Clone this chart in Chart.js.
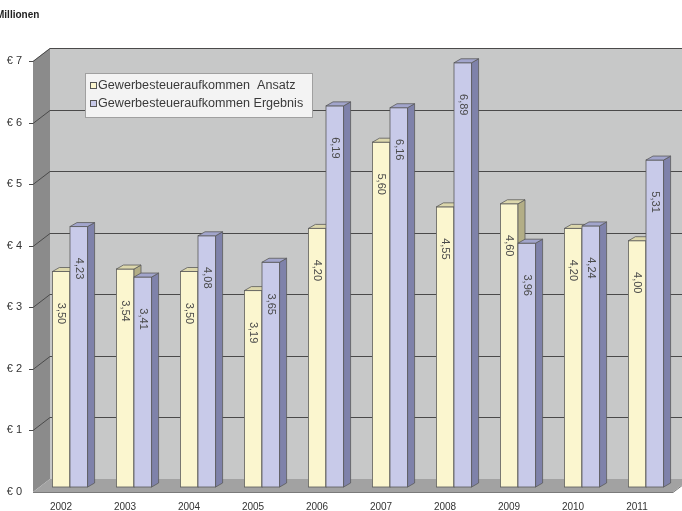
<!DOCTYPE html>
<html>
<head>
<meta charset="utf-8">
<script src="https://cdn.jsdelivr.net/npm/chart.js@4.4.1/dist/chart.umd.min.js"></script>
<style>
  html, body { margin: 0; padding: 0; background: #fff; }
</style>
</head>
<body>
<canvas id="myChart" width="682" height="511"></canvas>
<script>
const years = ['2002', '2003', '2004', '2005', '2006', '2007', '2008', '2009', '2010', '2011']
const ansatz = [3.50, 3.54, 3.50, 3.19, 4.20, 5.60, 4.55, 4.60, 4.20, 4.00]
const ergebnis = [4.23, 3.41, 4.08, 3.65, 6.19, 6.16, 6.89, 3.96, 4.24, 5.31]
const seriesNames = ['Gewerbesteueraufkommen  Ansatz', 'Gewerbesteueraufkommen Ergebnis']
const yMax = 7

const FONT = 'Liberation Sans, Arial, sans-serif'

// face colours for the 3d bars: front, side, top
const faces = [
  { front: '#fbf6cf', side: '#b3ae86', top: '#dcd7ac' },
  { front: '#c8cae9', side: '#7f82aa', top: '#a2a5cc' }
]

// depth of the box (walls) and of the bars
const FRONT = { dx: -5, dy: 5 }
const BACK = { dx: 12, dy: -8 }
const BAR_DX = 7
const BAR_DY = 4

const fmt = (v) => v.toFixed(2).replace('.', ',')

const walls = {
  id: 'walls',
  beforeDatasetsDraw(chart) {
    const { ctx, chartArea } = chart
    const y = chart.scales.y
    const L = chartArea.left
    const R = chartArea.right
    const W = chart.width
    const top = y.getPixelForValue(yMax)
    const zero = y.getPixelForValue(0)
    ctx.save()
    // back wall
    ctx.fillStyle = '#c7c8c8'
    ctx.fillRect(L + BACK.dx, top + BACK.dy, W - L - BACK.dx, zero - top)
    // left side wall
    ctx.fillStyle = '#8b8b8b'
    ctx.beginPath()
    ctx.moveTo(L + FRONT.dx, top + FRONT.dy)
    ctx.lineTo(L + BACK.dx, top + BACK.dy)
    ctx.lineTo(L + BACK.dx, zero + BACK.dy)
    ctx.lineTo(L + FRONT.dx, zero + FRONT.dy)
    ctx.closePath()
    ctx.fill()
    // floor
    ctx.fillStyle = '#a2a2a2'
    ctx.beginPath()
    ctx.moveTo(L + FRONT.dx, zero + FRONT.dy)
    ctx.lineTo(L + BACK.dx, zero + BACK.dy)
    ctx.lineTo(R + BACK.dx, zero + BACK.dy)
    ctx.lineTo(R + FRONT.dx, zero + FRONT.dy)
    ctx.closePath()
    ctx.fill()
    ctx.strokeStyle = '#7a7a7a'
    ctx.lineWidth = 1
    ctx.beginPath()
    ctx.moveTo(L + FRONT.dx, zero + FRONT.dy + 0.5)
    ctx.lineTo(R + FRONT.dx, zero + FRONT.dy + 0.5)
    ctx.lineTo(R + BACK.dx, zero + BACK.dy + 0.5)
    ctx.stroke()

    // grid lines on side and back wall
    ctx.strokeStyle = '#4a4a4a'
    y.ticks.forEach((t) => {
      if (t.value === 0) return
      const py = Math.round(y.getPixelForValue(t.value)) + 0.5
      ctx.beginPath()
      ctx.moveTo(L + FRONT.dx - 4, py + FRONT.dy)
      ctx.lineTo(L + FRONT.dx, py + FRONT.dy)
      ctx.lineTo(L + BACK.dx, py + BACK.dy)
      ctx.lineTo(W, py + BACK.dy)
      ctx.stroke()
    })
    ctx.restore()
  }
}

const bars3d = {
  id: 'bars3d',
  afterDatasetsDraw(chart) {
    const { ctx } = chart
    const metas = [chart.getDatasetMeta(0), chart.getDatasetMeta(1)]
    ctx.save()
    ctx.lineWidth = 0.8
    ctx.strokeStyle = '#5a5a5a'
    for (let i = 0; i < years.length; i++) {
      metas.forEach((meta, d) => {
        const bar = meta.data[i]
        const { x, y, width, base } = bar.getProps(['x', 'y', 'width', 'base'], true)
        const l = x - width / 2
        const r = x + width / 2
        const c = faces[d]
        // front
        ctx.fillStyle = c.front
        ctx.fillRect(l, y, width, base - y)
        ctx.strokeRect(l, y, width, base - y)
        // side
        ctx.fillStyle = c.side
        ctx.beginPath()
        ctx.moveTo(r, y)
        ctx.lineTo(r + BAR_DX, y - BAR_DY)
        ctx.lineTo(r + BAR_DX, base - BAR_DY)
        ctx.lineTo(r, base)
        ctx.closePath()
        ctx.fill()
        ctx.stroke()
        // top
        ctx.fillStyle = c.top
        ctx.beginPath()
        ctx.moveTo(l, y)
        ctx.lineTo(l + BAR_DX, y - BAR_DY)
        ctx.lineTo(r + BAR_DX, y - BAR_DY)
        ctx.lineTo(r, y)
        ctx.closePath()
        ctx.fill()
        ctx.stroke()
      })
    }
    // value labels, rotated, inside the bars
    ctx.fillStyle = '#4a4a4a'
    ctx.font = '11px ' + FONT
    ctx.textAlign = 'center'
    ctx.textBaseline = 'middle'
    metas.forEach((meta, d) => {
      const values = chart.data.datasets[d].data
      meta.data.forEach((bar, i) => {
        const { x, y } = bar.getProps(['x', 'y'], true)
        ctx.save()
        ctx.translate(x, y + 42)
        ctx.rotate(Math.PI / 2)
        ctx.fillText(fmt(values[i]), 0, 0)
        ctx.restore()
      })
    })
    ctx.restore()
  }
}

const boxLegend = {
  id: 'boxLegend',
  afterDraw(chart) {
    const { ctx } = chart
    ctx.save()
    ctx.fillStyle = '#f3f3f3'
    ctx.strokeStyle = '#a0a0a0'
    ctx.lineWidth = 1
    ctx.fillRect(85.5, 73.5, 227, 44)
    ctx.strokeRect(85.5, 73.5, 227, 44)
    ctx.font = '12px ' + FONT
    ctx.textBaseline = 'middle'
    chart.data.datasets.forEach((ds, d) => {
      const ly = 86 + d * 18
      ctx.fillStyle = faces[d].front
      ctx.fillRect(90.5, ly - 3.5, 6, 6)
      ctx.strokeStyle = '#555'
      ctx.strokeRect(90.5, ly - 3.5, 6, 6)
      ctx.fillStyle = '#3a3a3a'
      ctx.save()
      ctx.translate(98, ly)
      ctx.scale(1.05, 1)
      ctx.fillText(ds.label, 0, 0)
      ctx.restore()
    })
    // unit caption in the corner
    ctx.font = 'bold 10px ' + FONT
    ctx.fillStyle = '#222'
    ctx.fillText('Millionen', -4, 15)
    ctx.restore()
  }
}

const data = {
  labels: years,
  datasets: [
    { label: seriesNames[0], data: ansatz, backgroundColor: faces[0].front },
    { label: seriesNames[1], data: ergebnis, backgroundColor: faces[1].front }
  ]
}

const options = {
  responsive: false,
  animation: false,
  layout: { padding: { top: 56, right: 4, left: 0, bottom: 0 } },
  datasets: { bar: { categoryPercentage: 0.55, barPercentage: 1 } },
  plugins: {
    legend: { display: false },
    tooltip: { enabled: false },
    title: { display: false }
  },
  scales: {
    x: {
      grid: { display: false, drawTicks: false },
      border: { display: false },
      ticks: { color: '#333', font: { size: 10, family: FONT }, labelOffset: -9, padding: 14 },
      afterFit: (s) => { s.height = 24 }
    },
    y: {
      min: 0,
      max: yMax,
      grid: { display: false, drawTicks: false },
      border: { display: false },
      ticks: {
        stepSize: 1,
        color: '#333',
        font: { size: 11, family: FONT },
        padding: 16,
        labelOffset: 5,
        callback: (v) => '€ ' + v
      },
      afterFit: (s) => { s.width = 38 }
    }
  }
}

new Chart(document.getElementById('myChart'), {
  type: 'bar',
  data,
  options,
  plugins: [walls, bars3d, boxLegend]
})
</script>
</body>
</html>
